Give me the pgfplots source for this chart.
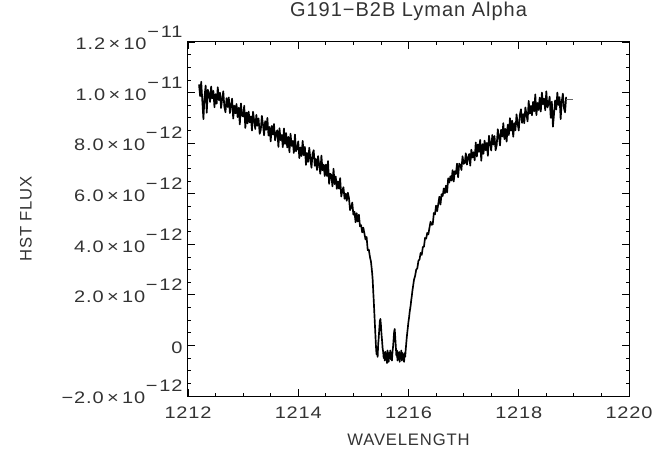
\documentclass[border=0pt]{standalone}
\usepackage{pgfplots}
\pgfplotsset{compat=1.18}
\usepackage{pgfplotstable}
\usepackage{fontspec}
\setmainfont{Liberation Sans}
\newfontfamily\idl{Liberation Sans}[FakeStretch=1.2,LetterSpace=5]
\newfontfamily\idlt{Liberation Sans}[LetterSpace=5]
\newcommand{\sci}[2]{#1\kern0.2em×\kern0.2em10\kern0.05em\raisebox{9pt}{\fontsize{12.5}{12}\selectfont −\kern0.1em#2}}

\pgfplotstableread{
x y
1212.20 10.32
1212.22 9.86
1212.24 10.43
1212.26 9.65
1212.28 8.95
1212.30 9.84
1212.32 10.28
1212.34 9.20
1212.36 10.11
1212.38 9.96
1212.40 9.63
1212.42 10.24
1212.44 9.77
1212.46 10.07
1212.48 9.42
1212.50 9.94
1212.52 9.56
1212.54 10.21
1212.56 9.70
1212.58 9.99
1212.60 9.39
1212.62 9.76
1212.64 10.05
1212.66 9.43
1212.68 9.22
1212.70 9.78
1212.72 9.43
1212.74 9.81
1212.76 9.19
1212.78 9.48
1212.80 9.76
1212.82 8.97
1212.84 9.48
1212.86 9.18
1212.88 9.55
1212.90 9.03
1212.92 9.40
1212.94 8.74
1212.96 9.57
1212.98 9.09
1213.00 9.06
1213.02 9.48
1213.04 8.60
1213.06 9.21
1213.08 8.78
1213.10 9.25
1213.12 8.82
1213.14 9.06
1213.16 8.50
1213.18 9.24
1213.20 8.90
1213.22 8.56
1213.24 9.12
1213.26 8.69
1213.28 8.98
1213.30 8.37
1213.32 8.52
1213.34 9.08
1213.36 8.74
1213.38 8.31
1213.40 8.87
1213.42 8.53
1213.44 9.00
1213.46 8.30
1213.48 8.64
1213.50 8.07
1213.52 8.68
1213.54 8.34
1213.56 8.76
1213.58 8.11
1213.60 8.40
1213.62 8.51
1213.64 7.85
1213.66 8.59
1213.68 8.12
1213.70 8.32
1213.72 7.84
1213.74 8.58
1213.76 7.97
1213.78 8.40
1213.80 7.83
1213.82 8.25
1213.84 7.64
1213.86 8.37
1213.88 7.89
1213.90 8.09
1213.92 7.61
1213.94 8.34
1213.96 7.68
1213.98 7.79
1214.00 8.07
1214.02 7.41
1214.04 7.83
1214.06 7.49
1214.08 8.09
1214.10 7.52
1214.12 7.85
1214.14 7.14
1214.16 7.61
1214.18 7.26
1214.20 7.82
1214.22 7.38
1214.24 7.03
1214.26 7.58
1214.28 7.72
1214.30 7.10
1214.32 7.38
1214.34 6.94
1214.36 7.49
1214.38 7.14
1214.40 6.79
1214.42 7.51
1214.44 6.93
1214.46 7.15
1214.48 6.70
1214.50 7.15
1214.52 6.70
1214.54 7.29
1214.56 6.39
1214.58 6.79
1214.60 6.74
1214.62 6.29
1214.64 6.99
1214.66 6.38
1214.68 6.68
1214.70 6.19
1214.72 6.49
1214.74 6.20
1214.76 6.62
1214.78 5.89
1214.80 6.12
1214.82 6.26
1214.84 5.80
1214.86 6.00
1214.88 5.72
1214.90 6.04
1214.92 5.83
1214.94 5.35
1214.96 5.47
1214.98 5.65
1215.00 5.17
1215.02 5.29
1215.04 4.87
1215.06 5.23
1215.08 4.90
1215.10 5.17
1215.12 4.71
1215.14 4.76
1215.16 4.47
1215.18 4.66
1215.20 4.43
1215.22 4.19
1215.24 4.29
1215.26 3.77
1215.28 3.79
1215.30 3.51
1215.32 3.30
1215.34 2.88
1215.35 2.60
1215.36 2.15
1215.37 1.75
1215.38 1.30
1215.39 0.85
1215.40 0.40
1215.41 -0.05
1215.42 -0.35
1215.43 -0.20
1215.44 -0.45
1215.45 0.05
1215.46 0.30
1215.47 0.65
1215.48 0.95
1215.49 1.05
1215.50 0.80
1215.51 0.45
1215.52 0.20
1215.53 -0.10
1215.54 -0.25
1215.55 -0.50
1215.56 -0.30
1215.57 -0.60
1215.58 -0.25
1215.59 -0.55
1215.60 -0.35
1215.61 -0.70
1215.62 -0.20
1215.63 -0.45
1215.64 -0.65
1215.65 -0.30
1215.66 -0.50
1215.67 -0.20
1215.68 -0.55
1215.69 -0.35
1215.70 -0.60
1215.71 -0.25
1215.72 -0.05
1215.73 0.25
1215.74 0.55
1215.75 0.65
1215.76 0.30
1215.77 -0.05
1215.78 -0.40
1215.79 -0.20
1215.80 -0.60
1215.81 -0.30
1215.82 -0.55
1215.83 -0.25
1215.84 -0.65
1215.85 -0.35
1215.86 -0.50
1215.87 -0.20
1215.88 -0.60
1215.89 -0.30
1215.90 -0.55
1215.91 -0.40
1215.92 -0.65
1215.93 -0.30
1215.94 -0.45
1215.95 -0.15
1215.96 0.10
1215.97 0.35
1215.98 0.55
1215.99 0.75
1216.00 0.95
1216.01 1.10
1216.02 1.30
1216.03 1.45
1216.04 1.60
1216.05 1.80
1216.06 1.95
1216.07 2.15
1216.08 2.30
1216.10 2.60
1216.12 2.75
1216.14 3.00
1216.16 3.05
1216.18 3.35
1216.20 3.40
1216.22 3.66
1216.24 3.58
1216.26 3.89
1216.28 3.90
1216.30 4.25
1216.32 4.22
1216.34 4.45
1216.36 4.39
1216.38 4.65
1216.40 4.89
1216.42 4.77
1216.44 4.79
1216.46 5.24
1216.48 5.18
1216.50 5.53
1216.52 5.31
1216.54 5.60
1216.56 5.88
1216.58 5.57
1216.60 5.98
1216.62 5.91
1216.64 6.21
1216.66 6.02
1216.68 6.32
1216.70 6.05
1216.72 6.61
1216.74 6.44
1216.76 6.69
1216.78 6.52
1216.80 6.93
1216.82 6.48
1216.84 6.89
1216.86 6.78
1216.88 7.19
1216.90 6.65
1216.92 7.19
1216.94 7.14
1216.96 6.94
1216.98 7.48
1217.00 7.18
1217.02 7.22
1217.04 7.60
1217.06 7.15
1217.08 7.43
1217.10 7.57
1217.12 7.11
1217.14 7.74
1217.16 7.43
1217.18 7.64
1217.20 7.32
1217.22 8.03
1217.24 7.47
1217.26 7.95
1217.28 7.66
1217.30 8.13
1217.32 7.30
1217.34 7.96
1217.36 7.58
1217.38 8.10
1217.40 7.72
1217.42 8.01
1217.44 7.50
1217.46 8.29
1217.48 8.00
1217.50 7.71
1217.52 8.32
1217.54 7.94
1217.56 8.28
1217.58 7.72
1217.60 7.92
1217.62 8.55
1217.64 8.27
1217.66 7.91
1217.68 8.53
1217.70 8.26
1217.72 8.79
1217.74 8.16
1217.76 8.56
1217.78 8.06
1217.80 8.73
1217.82 8.32
1217.84 8.99
1217.86 8.49
1217.88 8.89
1217.90 8.25
1217.92 8.79
1217.94 8.51
1217.96 9.14
1217.98 8.77
1218.00 8.50
1218.02 9.12
1218.04 9.34
1218.06 8.80
1218.08 9.15
1218.10 8.79
1218.12 9.41
1218.14 9.14
1218.16 8.86
1218.18 9.67
1218.20 9.17
1218.22 9.47
1218.24 9.10
1218.26 9.63
1218.28 9.26
1218.30 9.93
1218.32 9.11
1218.34 9.59
1218.36 9.31
1218.38 9.80
1218.40 9.25
1218.42 10.00
1218.44 9.54
1218.46 9.76
1218.48 9.30
1218.50 10.05
1218.52 9.41
1218.54 9.54
1218.56 9.84
1218.58 9.00
1218.60 9.64
1218.62 8.65
1218.64 9.15
1218.66 9.69
1218.68 9.33
1218.70 10.00
1218.72 9.51
1218.74 9.82
1218.76 8.95
1218.78 9.64
1218.80 9.96
1218.82 9.39
1218.84 9.22
1218.86 9.83
}\spec

\pgfplotstableread{
x y
1218.86 9.72
1218.98 9.72
}\tail

\begin{document}
\begin{tikzpicture}
\useasboundingbox (-141pt,-43.5pt) rectangle (354pt,297pt);
\begin{axis}[
  width=330.75pt, height=265.5pt, scale only axis,
  xmin=1212, xmax=1220, ymin=-2, ymax=12,
  xtick={1212,1214,1216,1218,1220},
  xticklabels={1212,1214,1216,1218,1220},
  ytick={-2,0,2,4,6,8,10,12},
  yticklabels={\sci{−2.0}{12},0,\sci{2.0}{12},\sci{4.0}{12},\sci{6.0}{12},\sci{8.0}{12},\sci{1.0}{11},\sci{1.2}{11}},
  minor x tick num=3, minor y tick num=3,
  tick align=inside,
  major tick length=5.25pt, minor tick length=2.6pt,
  axis line style={line width=0.75pt, black},
  every tick/.style={black, line width=0.6pt},
  ticklabel style={font=\idl\fontsize{12.5}{14}\selectfont, text=black!80},
  xticklabel style={anchor=base, inner sep=0pt, yshift=-16.5pt},
  yticklabel style={anchor=base east, inner sep=0pt, xshift=-4pt, yshift=-5.8pt},
  title={G191−B2B Lyman Alpha},
  title style={at={(axis description cs:0.5,1.0508)}, anchor=base, inner sep=0pt, font=\idlt\fontsize{15}{17}\selectfont, text=black!80},
  xlabel={WAVELENGTH},
  xlabel style={at={(axis description cs:0.5,-0.1412)}, anchor=base, inner sep=0pt, font=\idlt\fontsize{12.5}{14}\selectfont, text=black!80},
  ylabel={HST FLUX},
  ylabel style={at={(axis description cs:-0.3545,0.5)}, anchor=base, inner sep=0pt, rotate=0, font=\idlt\fontsize{12.5}{14}\selectfont, text=black!80},
]
\addplot[black, line width=1.25pt, line join=round] table[x=x,y=y] {\spec};
\addplot[black!60, line width=0.7pt] table[x=x,y=y] {\tail};
\end{axis}
\end{tikzpicture}
\end{document}
